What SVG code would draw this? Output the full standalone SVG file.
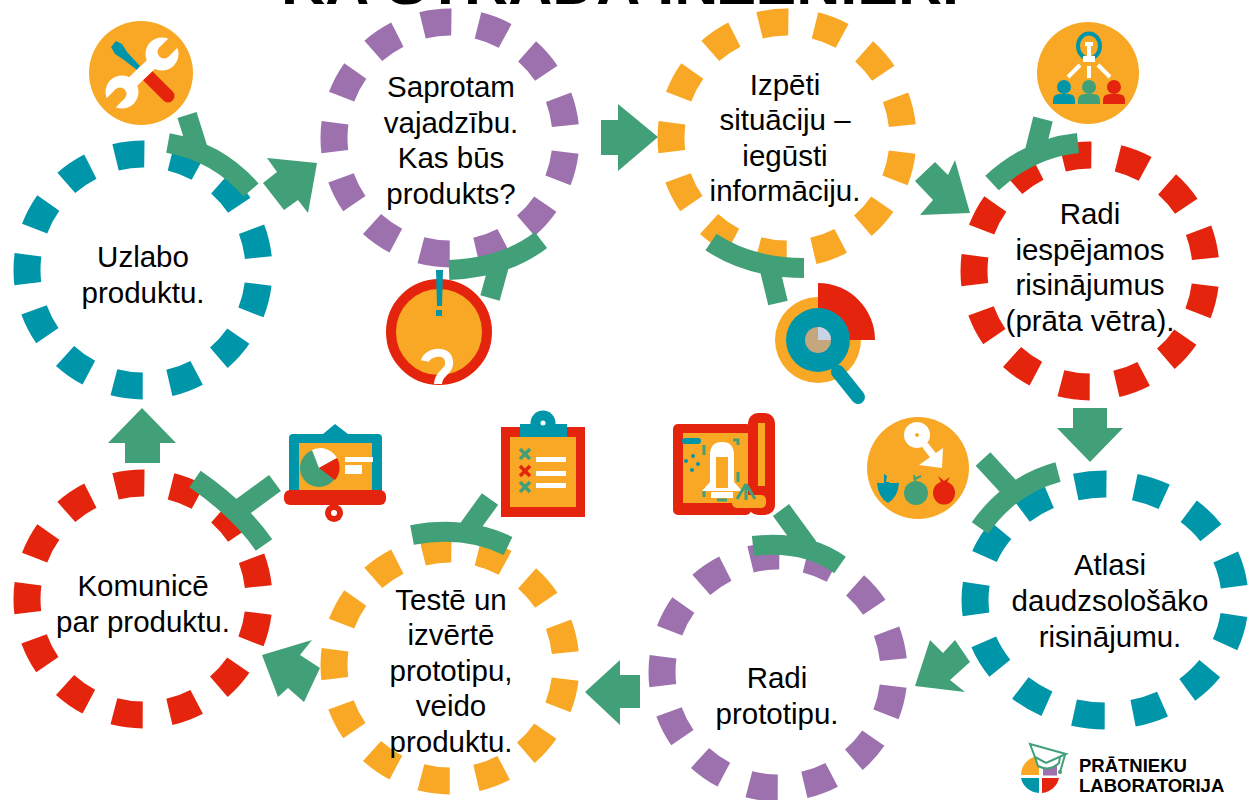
<svg xmlns="http://www.w3.org/2000/svg" width="1249" height="800" viewBox="0 0 1249 800">
<style>
.ring{fill:none;stroke-width:27;stroke-dasharray:.52 .48;stroke-dashoffset:-.255}
.t{font-family:"Liberation Sans",Arial,sans-serif;font-size:29.5px;fill:#000;text-anchor:middle}
.b{font-family:"Liberation Sans",Arial,sans-serif;font-weight:bold;fill:#000}
.y{fill:none;stroke:#41a077;stroke-width:20}
.a{fill:#41a077}
.o{fill:#f9a825}.r{fill:#e5240d}.c{fill:#0096aa}.g{fill:#41a077}.w{fill:#fff}
</style>
<rect width="1249" height="800" fill="#fff"/>
<text class="b" x="620" y="4" font-size="61" text-anchor="middle">KĀ STRĀDĀ INŽENIERI</text>

<g id="node-uzlabo"><circle class="ring" cx="143" cy="270" r="116" pathLength="13" stroke="#0096aa"/><text class="t" x="143" y="267">Uzlabo</text><text class="t" x="143" y="303">produktu.</text></g>
<g id="node-saprotam"><circle class="ring" cx="450" cy="138" r="116" pathLength="13" stroke="#9c71ae"/><text class="t" x="451" y="97">Saprotam</text><text class="t" x="451" y="133">vajadzību.</text><text class="t" x="451" y="168">Kas būs</text><text class="t" x="451" y="204">produkts?</text></g>
<g id="node-izpeti"><circle class="ring" cx="787" cy="138" r="116" pathLength="13" stroke="#f9a825"/><text class="t" x="785" y="95">Izpēti</text><text class="t" x="785" y="130">situāciju –</text><text class="t" x="785" y="166">iegūsti</text><text class="t" x="785" y="201">informāciju.</text></g>
<g id="node-radi-risinajumus"><circle class="ring" cx="1090" cy="271" r="116" pathLength="13" stroke="#e5240d"/><text class="t" x="1090" y="224">Radi</text><text class="t" x="1090" y="260">iespējamos</text><text class="t" x="1090" y="295">risinājumus</text><text class="t" x="1090" y="331">(prāta vētra).</text></g>
<g id="node-atlasi"><ellipse class="ring" cx="1105" cy="600" rx="130" ry="116" pathLength="13" stroke="#0096aa"/><text class="t" x="1110" y="575">Atlasi</text><text class="t" x="1110" y="611">daudzsološāko</text><text class="t" x="1110" y="647">risinājumu.</text></g>
<g id="node-radi-prototipu"><circle class="ring" cx="778" cy="672" r="116" pathLength="13" stroke="#9c71ae"/><text class="t" x="777" y="688">Radi</text><text class="t" x="777" y="724">prototipu.</text></g>
<g id="node-teste"><circle class="ring" cx="450" cy="665" r="116" pathLength="13" stroke="#f9a825"/><text class="t" x="451" y="610">Testē un</text><text class="t" x="451" y="645">izvērtē</text><text class="t" x="451" y="681">prototipu,</text><text class="t" x="451" y="716">veido</text><text class="t" x="451" y="752">produktu.</text></g>
<g id="node-komunice"><circle class="ring" cx="143" cy="599" r="116" pathLength="13" stroke="#e5240d"/><text class="t" x="143" y="596">Komunicē</text><text class="t" x="143" y="632">par produktu.</text></g>

<g id="connectors">
<path class="y" d="M168,143Q218,152 251,190M187,115L198,150"/>
<path class="y" d="M449,270Q505,268 541,240M501,258L490,298"/>
<path class="y" d="M711,242Q750,268 804,268M770,270L778,303"/>
<path class="y" d="M992,183Q1030,148 1078,143M1043,119L1034,155"/>
<path class="y" d="M980,528Q1010,485 1058,472M983,459L1018,497"/>
<path class="y" d="M753,546Q805,540 840,565M781,510L808,547"/>
<path class="y" d="M412,535Q465,525 508,546M490,499L464,535"/>
<path class="y" d="M195,479Q240,510 264,545M275,483L238,510"/>
<polygon class="a" points="267,158 317,163 308,213 298,200 284,210 263,183 277,172"/>
<polygon class="a" points="601,120 618,120 618,104 658,137 618,171 618,155 601,155"/>
<polygon class="a" points="970,213 920,215 933,200 915,181 935,162 948,175 955,160"/>
<polygon class="a" points="1073,408 1107,408 1107,428 1123,428 1090,462 1057,428 1073,428"/>
<polygon class="a" points="915,686 930,640 943,653 955,640 970,662 950,680 965,692"/>
<polygon class="a" points="585,692 620,660 620,675 640,675 640,708 620,708 620,725"/>
<polygon class="a" points="262,655 312,640 300,655 320,668 304,702 288,688 278,697"/>
<polygon class="a" points="142,408 176,443 160,443 160,463 125,463 125,443 108,443"/>
</g>

<g id="icon-tools"><circle class="o" cx="141" cy="73" r="52"/>
<path d="M111,47L116,41L122,44L127,52L140,66L137,70L124,60L115,54Z" class="c"/>
<path d="M146,74L168,96" stroke="#e5240d" stroke-width="13" stroke-linecap="round" fill="none"/>
<path d="M122,92L162,54" stroke="#fff" stroke-width="12"/>
<circle class="w" cx="162" cy="54" r="16.500"/><circle class="w" cx="122" cy="92" r="16.500"/>
<path d="M164,52L177,39M120,94L107,107" stroke="#f9a825" stroke-width="13"/><circle class="o" cx="164" cy="52" r="6.500"/><circle class="o" cx="120" cy="94" r="6.500"/></g>

<g id="icon-question"><circle class="o" cx="439" cy="332" r="48" stroke="#e5240d" stroke-width="10"/>
<polygon class="c" points="436,270 443,270 442,306 437,306"/><rect class="c" x="436" y="310" width="6" height="6"/>
<path d="M425,361C427,352 447,348 449,361C451,372 438,372 438,384" fill="none" stroke="#fff" stroke-width="8"/></g>

<g id="icon-search"><circle class="o" cx="818" cy="340" r="43"/><path class="r" d="M818,340V283A57,57 0 0 1 875,340Z"/>
<path d="M838,372L858,397" stroke="#0096aa" stroke-width="14" stroke-linecap="round"/>
<circle class="c" cx="818" cy="340" r="32"/><circle cx="818" cy="340" r="13" fill="#c4a77d"/><path d="M818,340V327A13,13 0 0 1 831,340Z" fill="#c8d3e8"/></g>

<g id="icon-idea"><circle class="o" cx="1088" cy="73" r="51"/>
<ellipse cx="1089" cy="46" rx="11" ry="12.500" fill="none" stroke="#0096aa" stroke-width="4"/>
<path d="M1089,44V58M1085,44L1093,44" stroke="#fff" stroke-width="4"/><rect class="w" x="1083" y="56" width="12" height="6"/>
<path d="M1080,65L1068,77M1089,66V78M1098,65L1110,77" stroke="#fff" stroke-width="4"/>
<circle class="c" cx="1064" cy="87" r="7"/><path class="c" d="M1053,104V100Q1053,94 1060,94H1068Q1075,94 1075,100V104Z"/>
<circle class="g" cx="1089" cy="87" r="7"/><path class="g" d="M1078,104V100Q1078,94 1085,94H1093Q1100,94 1100,100V104Z"/>
<circle class="r" cx="1114" cy="87" r="7"/><path class="r" d="M1103,104V100Q1103,94 1110,94H1118Q1125,94 1125,100V104Z"/></g>

<g id="icon-fruit"><circle class="o" cx="918" cy="468" r="51"/>
<circle class="w" cx="917" cy="435" r="13"/><circle class="o" cx="917" cy="435" r="2"/>
<path d="M925,445L935,458" stroke="#fff" stroke-width="7"/><polygon class="w" points="943,448 942,468 919,465"/>
<path class="c" d="M877,483H899Q898,497 888,503Q878,497 877,483ZM884,474L887,476L886,482H890L889,483H884Z"/>
<circle class="g" cx="916" cy="493" r="12"/><path d="M915,481L914,475M915,479L921,476" stroke="#41a077" stroke-width="2" fill="none"/>
<ellipse class="r" cx="944" cy="493" rx="11" ry="11.500"/><path class="r" d="M938,476L944,481L950,477L946,484H942Z"/></g>

<g id="icon-blueprint">
<rect class="r" x="673" y="424" width="78" height="91" rx="5"/><rect class="r" x="748" y="413" width="27" height="102" rx="10"/>
<rect class="o" x="683" y="433" width="65" height="70"/><rect class="o" x="732" y="495" width="34" height="13" rx="5"/><rect class="o" x="758" y="423" width="7" height="63"/>
<rect class="c" x="682" y="438" width="19" height="6" rx="3"/>
<circle class="c" cx="686" cy="461" r="2"/><circle class="c" cx="693" cy="456" r="2"/><circle class="c" cx="698" cy="464" r="2"/><circle class="c" cx="692" cy="470" r="2"/>
<path d="M704,445V455M704,490V497M717,500H727M733,440H738V445M738,472V482" stroke="#41a077" stroke-width="3" fill="none"/>
<path class="w" d="M710,482V455Q710,442 722,442Q734,442 734,455V482L742,491H702ZM711,492H733V498H711Z"/><rect class="o" x="716" y="457" width="12" height="31"/>
<path d="M746,484L737,499M746,484L755,499M746,484V500" stroke="#41a077" stroke-width="3" fill="none"/></g>

<g id="icon-checklist"><rect class="r" x="501" y="427" width="84" height="90"/><rect class="o" x="510" y="437" width="66" height="70"/>
<circle class="c" cx="543" cy="423" r="12.500"/><rect class="c" x="520" y="424" width="47" height="13"/><circle class="w" cx="543" cy="423" r="2.500"/>
<path d="M520,449L530,459M530,449L520,459M520,482L530,492M530,482L520,492" stroke="#41a077" stroke-width="3.500"/><path d="M520,466L530,476M530,466L520,476" stroke="#e5240d" stroke-width="3.500"/>
<rect class="w" x="536" y="457" width="30" height="5"/><rect class="w" x="536" y="471" width="30" height="5"/><rect class="w" x="536" y="483" width="30" height="5"/></g>

<g id="icon-presentation"><polygon class="c" points="323,434 335,424 348,434"/><rect class="c" x="289" y="434" width="93" height="60" rx="4"/><rect class="o" x="299" y="443" width="73" height="47"/>
<circle class="g" cx="319" cy="468" r="19"/><path class="w" d="M319,468L312,450A19,19 0 0 1 337,458Z"/><path class="r" d="M319,468L337,458A19,19 0 0 1 335,480Z"/>
<rect class="w" x="345" y="457" width="28" height="5"/><rect class="w" x="345" y="465" width="17" height="9"/>
<rect class="r" x="284" y="490" width="102" height="15" rx="6"/><circle class="r" cx="334" cy="513" r="9"/><circle class="w" cx="334" cy="513" r="3"/></g>

<g id="logo">
<path class="o" d="M1021,775A19,19 0 0 1 1039,756V775Z"/><rect x="1043" y="760" width="14" height="15.500" fill="#9c71ae"/>
<path class="c" d="M1021,778H1039V793A19,19 0 0 1 1021,778Z"/><path class="r" d="M1042,778H1059A19,19 0 0 1 1042,793Z"/>
<path d="M1035,757L1038,766Q1050,772 1059,763L1060,757Z" fill="#fff" stroke="#41a077" stroke-width="2"/>
<polygon points="1030,744 1066,754 1046,763 1035,757" fill="#fff" stroke="#41a077" stroke-width="2"/>
<path d="M1065,755L1060,772" fill="none" stroke="#41a077" stroke-width="2"/><circle class="g" cx="1060" cy="772" r="2"/>
<text class="b" x="1079" y="772" font-size="18.500">PRĀTNIEKU</text><text class="b" x="1079" y="792" font-size="18.500">LABORATORIJA</text></g>
</svg>
